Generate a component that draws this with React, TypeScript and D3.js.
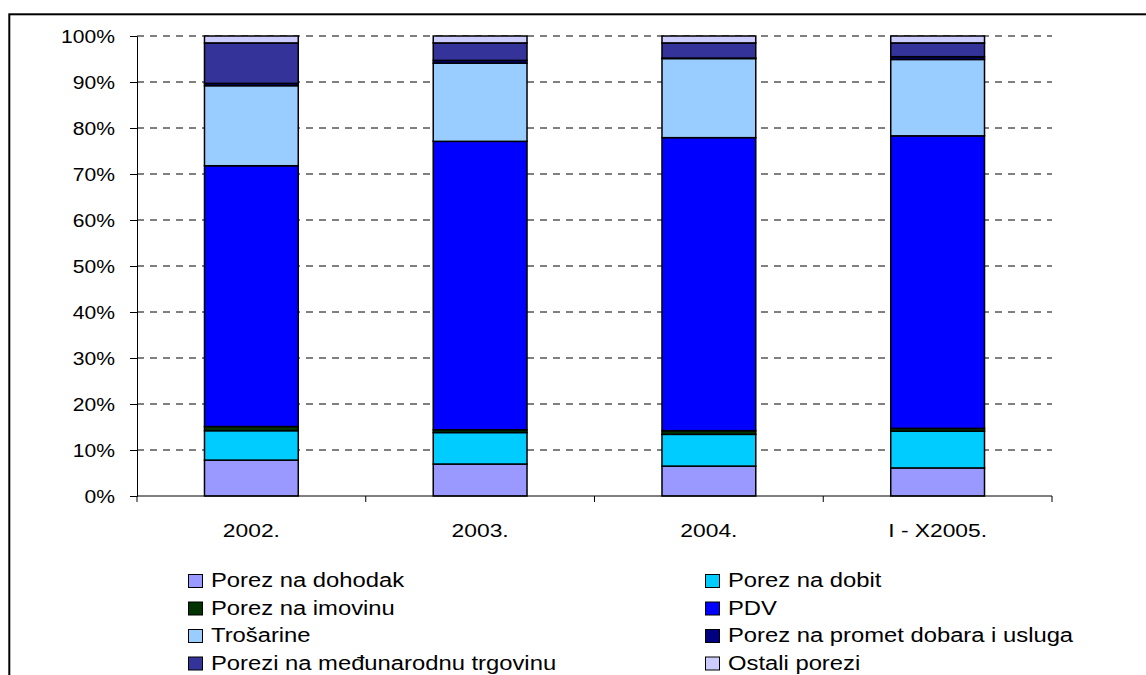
import { useRef, useEffect } from 'react';
import * as d3 from 'd3';

// shares of tax revenue, % per year
const categories = ['2002.', '2003.', '2004.', 'I - X2005.'];
const dohodak = [7.8, 6.95, 6.5, 6.1];
const dobit = [6.4, 6.85, 6.9, 8.0];
const imovina = [0.9, 0.6, 0.8, 0.6];
const pdv = [56.7, 62.7, 63.7, 63.6];
const trosarine = [17.4, 17.0, 17.2, 16.6];
const promet = [0.5, 0.6, 0.1, 0.6];
const medjunarodna = [8.8, 3.8, 3.3, 3.0];
const ostali = [1.5, 1.5, 1.5, 1.5];

const seriesNames = [
  'Porez na dohodak', 'Porez na dobit', 'Porez na imovinu', 'PDV',
  'Trošarine', 'Porez na promet dobara i usluga', 'Porezi na međunarodnu trgovinu', 'Ostali porezi',
];
const seriesValues = [dohodak, dobit, imovina, pdv, trosarine, promet, medjunarodna, ostali];
const seriesColors = ['#9999ff', '#00ccff', '#003300', '#0000ff', '#99ccff', '#000080', '#333399', '#ccccff'];
const yTicks = [0, 0.1, 0.2, 0.3, 0.4, 0.5, 0.6, 0.7, 0.8, 0.9, 1];

export default function App() {
  const ref = useRef<SVGSVGElement | null>(null);

  useEffect(() => {
    const svg = d3.select(ref.current);
    svg.selectAll('*').remove();
    const font = 'Liberation Sans, Arial, sans-serif';

    const left = 137, right = 1052, top = 36, bottom = 496;

    // outer frame
    svg.append('rect').attr('x', 9.3).attr('y', 14.3).attr('width', 1300).attr('height', 800)
      .attr('fill', 'none').attr('stroke', '#000').attr('stroke-width', 2);

    const x = d3.scaleBand<string>().domain(categories).range([left, right]);
    const y = d3.scaleLinear().domain([0, 1]).range([bottom, top]);
    const bw = x.bandwidth() * 0.41;

    // gridlines
    svg.append('g').selectAll('line').data(yTicks.slice(1)).enter().append('line')
      .attr('x1', left).attr('x2', right)
      .attr('y1', d => y(d)).attr('y2', d => y(d))
      .attr('stroke', '#000').attr('stroke-width', 1).attr('stroke-dasharray', '7,6');

    const rows = categories.map((c, i) => {
      const r: any = { cat: c };
      seriesNames.forEach((n, k) => { r[n] = seriesValues[k][i]; });
      return r;
    });
    const stacked = d3.stack().keys(seriesNames).offset(d3.stackOffsetExpand)(rows);

    stacked.forEach((s, k) => {
      svg.append('g').selectAll('rect').data(s).enter().append('rect')
        .attr('x', (d: any) => (x(d.data.cat) as number) + (x.bandwidth() - bw) / 2)
        .attr('width', bw)
        .attr('y', d => y(d[1]))
        .attr('height', d => y(d[0]) - y(d[1]))
        .attr('fill', seriesColors[k])
        .attr('stroke', '#000').attr('stroke-width', 1.5);
    });

    // y axis
    const ya = svg.append('g').attr('transform', `translate(${left},0)`)
      .call(d3.axisLeft(y).tickValues(yTicks).tickSize(7).tickSizeOuter(0).tickFormat(d3.format('.0%')));
    ya.select('.domain').attr('stroke', '#000');
    ya.selectAll('line').attr('stroke', '#000');
    ya.selectAll('text').remove();
    yTicks.forEach(t => {
      svg.append('text')
        .attr('transform', `translate(115,${y(t) + 6.5}) scale(1.14,1)`)
        .attr('text-anchor', 'end').attr('font-family', font).attr('font-size', 18.5)
        .attr('fill', '#000').text(d3.format('.0%')(t));
    });

    // x axis
    svg.append('line').attr('x1', left).attr('x2', right).attr('y1', bottom).attr('y2', bottom)
      .attr('stroke', '#000');
    const bounds = categories.map(c => x(c) as number).concat([right]);
    svg.append('g').selectAll('line').data(bounds).enter().append('line')
      .attr('x1', d => d).attr('x2', d => d).attr('y1', bottom).attr('y2', bottom + 6)
      .attr('stroke', '#000');
    categories.forEach(c => {
      svg.append('text')
        .attr('transform', `translate(${(x(c) as number) + x.bandwidth() / 2},537) scale(1.2,1)`)
        .attr('text-anchor', 'middle').attr('font-family', font).attr('font-size', 19)
        .attr('fill', '#000').text(c);
    });

    // legend, two columns
    const colX = [188, 705];
    seriesNames.forEach((n, k) => {
      const cx = colX[k % 2];
      const cy = 587 + Math.floor(k / 2) * 27.5;
      svg.append('rect').attr('x', cx + 0.5).attr('y', cy - 12.5).attr('width', 14).attr('height', 13)
        .attr('fill', seriesColors[k]).attr('stroke', '#000').attr('stroke-width', 1);
      svg.append('text')
        .attr('transform', `translate(${cx + 23},${cy}) scale(1.19,1)`)
        .attr('font-family', font).attr('font-size', 20).attr('fill', '#000').text(n);
    });
  }, []);

  return (
    <svg ref={ref} width={1146} height={675}
      style={{ position: 'absolute', left: 0, top: 0, background: '#fff' }} />
  );
}
